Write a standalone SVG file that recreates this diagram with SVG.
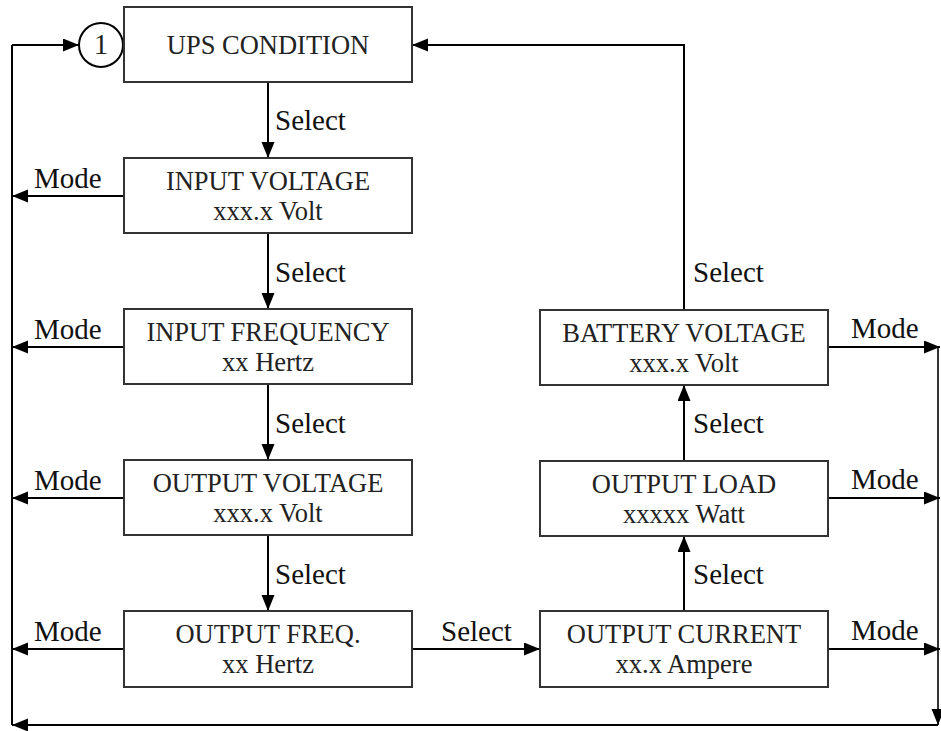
<svg xmlns="http://www.w3.org/2000/svg" width="941" height="731" viewBox="0 0 941 731">
<defs>
<marker id="ah" markerUnits="userSpaceOnUse" markerWidth="17" markerHeight="14" refX="16" refY="6.5" orient="auto">
<path d="M0,0 L16,6.5 L0,13 z" fill="#000"/>
</marker>
<style>
text{font-family:"Liberation Serif","Times New Roman",serif}
.box{fill:#fff;stroke:#333;stroke-width:2}
.t{font-size:26.5px;fill:#222;text-anchor:middle}
.lbl{font-size:29px;fill:#111}
.c{fill:none;stroke:#000;stroke-width:2}
.ce{fill:none;stroke:#000;stroke-width:2;marker-end:url(#ah)}
</style>
</defs>
<rect width="941" height="731" fill="#fff"/>
<g id="connectors">
<path class="c" d="M12,725 V45"/>
<path class="ce" d="M12,45 H79"/>
<path class="ce" d="M938,725 H12"/>
<path class="ce" d="M938,347 V725" style="stroke-width:1.6"/>
<path class="ce" d="M268,82 V158"/>
<path class="ce" d="M268,233 V309"/>
<path class="ce" d="M268,384 V460"/>
<path class="ce" d="M268,535 V611"/>
<path class="ce" d="M412,649 H540"/>
<path class="ce" d="M684,611 V536"/>
<path class="ce" d="M684,460 V385"/>
<path class="ce" d="M684,310 V45 H412"/>
<path class="ce" d="M124,196 H12"/>
<path class="ce" d="M124,347 H12"/>
<path class="ce" d="M124,498 H12"/>
<path class="ce" d="M124,649 H12"/>
<path class="ce" d="M828,347 H940"/>
<path class="ce" d="M828,498 H940"/>
<path class="ce" d="M828,649 H940"/>
<text class="lbl" x="275" y="130">Select</text>
<text class="lbl" x="275" y="282">Select</text>
<text class="lbl" x="275" y="433">Select</text>
<text class="lbl" x="275" y="584">Select</text>
<text class="lbl" x="441" y="641">Select</text>
<text class="lbl" x="693" y="282">Select</text>
<text class="lbl" x="693" y="433">Select</text>
<text class="lbl" x="693" y="584">Select</text>
<text class="lbl" x="34" y="188">Mode</text>
<text class="lbl" x="34" y="339">Mode</text>
<text class="lbl" x="34" y="490">Mode</text>
<text class="lbl" x="34" y="641">Mode</text>
<text class="lbl" x="851" y="338">Mode</text>
<text class="lbl" x="851" y="489">Mode</text>
<text class="lbl" x="851" y="640">Mode</text>
</g>
<g id="circle1">
<circle cx="101" cy="45" r="22" fill="#fff" stroke="#000" stroke-width="2"/>
<text class="t" x="101" y="54" style="font-size:29px">1</text>
</g>
<g id="ups-condition">
<rect class="box" x="124" y="7" width="288" height="75"/>
<text class="t" x="268" y="54">UPS CONDITION</text>
</g>
<g id="input-voltage">
<rect class="box" x="124" y="158" width="288" height="75"/>
<text class="t" x="268" y="190">INPUT VOLTAGE</text>
<text class="t" x="268" y="220">xxx.x Volt</text>
</g>
<g id="input-frequency">
<rect class="box" x="124" y="309" width="288" height="75"/>
<text class="t" x="268" y="341">INPUT FREQUENCY</text>
<text class="t" x="268" y="371">xx Hertz</text>
</g>
<g id="output-voltage">
<rect class="box" x="124" y="460" width="288" height="75"/>
<text class="t" x="268" y="492">OUTPUT VOLTAGE</text>
<text class="t" x="268" y="522">xxx.x Volt</text>
</g>
<g id="output-freq">
<rect class="box" x="124" y="611" width="288" height="76"/>
<text class="t" x="268" y="643">OUTPUT FREQ.</text>
<text class="t" x="268" y="673">xx Hertz</text>
</g>
<g id="battery-voltage">
<rect class="box" x="540" y="310" width="288" height="75"/>
<text class="t" x="684" y="342">BATTERY VOLTAGE</text>
<text class="t" x="684" y="372">xxx.x Volt</text>
</g>
<g id="output-load">
<rect class="box" x="540" y="461" width="288" height="75"/>
<text class="t" x="684" y="493">OUTPUT LOAD</text>
<text class="t" x="684" y="523">xxxxx Watt</text>
</g>
<g id="output-current">
<rect class="box" x="540" y="611" width="288" height="76"/>
<text class="t" x="684" y="643">OUTPUT CURRENT</text>
<text class="t" x="684" y="673">xx.x Ampere</text>
</g>
</svg>
